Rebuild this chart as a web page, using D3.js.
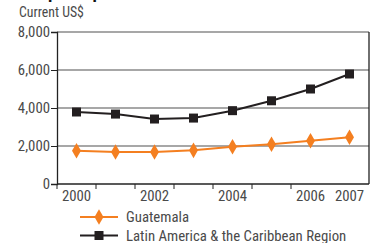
<!DOCTYPE html>
<html>
<head>
<meta charset="utf-8">
<script src="https://cdn.jsdelivr.net/npm/d3@7"></script>
<style>
body { margin: 0; background: #fff; }
text { font-family: "Liberation Sans Narrow", "Roboto Condensed", "Liberation Sans", sans-serif; fill: #4a4a4a; }
</style>
</head>
<body>
<script>
// data
var years = [2000, 2001, 2002, 2003, 2004, 2005, 2006, 2007];
var yearLabels = ["2000", "", "2002", "", "2004", "", "2006", "2007"];
var guatemala = [1750, 1680, 1680, 1770, 1960, 2090, 2280, 2460];
var latam = [3790, 3680, 3420, 3470, 3860, 4380, 5000, 5790];
var yTicks = [0, 2000, 4000, 6000, 8000];
var seriesNames = ["Guatemala", "Latin America & the Caribbean Region"];

var W = 371, H = 243;
var margin = {top: 32, right: 2, bottom: 59, left: 57};
var fs = "14.8px";

var svg = d3.select("body").append("svg").attr("width", W).attr("height", H);

// title sits above the frame, only the descenders peek in
svg.append("text").attr("x", 13).attr("y", -2.5)
    .style("font-weight", "bold").style("font-size", "18px").style("fill", "#111")
    .text("GDP per capita");

var x = d3.scaleBand().domain(years).range([margin.left, W - margin.right]);
var y = d3.scaleLinear().domain([0, 8000]).range([H - margin.bottom, margin.top]);

svg.append("text").attr("x", 19).attr("y", 17).style("font-size", "13.8px").text("Current US$");

// gridlines
svg.selectAll(".grid").data(yTicks.slice(1)).enter().append("line")
    .attr("x1", margin.left).attr("x2", W - margin.right)
    .attr("y1", function(d){ return y(d); }).attr("y2", function(d){ return y(d); })
    .attr("stroke", "#8a8a8a").attr("stroke-width", 1.3);

// right border
svg.append("line").attr("x1", W - margin.right).attr("x2", W - margin.right)
    .attr("y1", y(8000)).attr("y2", y(0)).attr("stroke", "#222").attr("stroke-width", 1.3);

// y axis
var yAxis = svg.append("g").attr("transform", "translate(" + margin.left + ",0)")
    .call(d3.axisLeft(y).tickValues(yTicks).tickSize(6).tickPadding(1).tickFormat(d3.format(",")));
yAxis.select(".domain").attr("stroke", "#222").attr("stroke-width", 1.3);
yAxis.selectAll(".tick line").attr("stroke", "#222");
yAxis.selectAll("text").style("font-size", fs).attr("fill", "#4a4a4a");

// x axis, ticks at band edges
var edges = years.slice(0, 7).map(function(d){ return x(d); });
svg.append("line").attr("x1", margin.left).attr("x2", W - margin.right)
    .attr("y1", y(0)).attr("y2", y(0)).attr("stroke", "#222").attr("stroke-width", 1.3);
svg.selectAll(".xt").data(edges).enter().append("line")
    .attr("x1", function(d){ return d; }).attr("x2", function(d){ return d; })
    .attr("y1", y(0)).attr("y2", y(0) + 5).attr("stroke", "#222");
svg.selectAll(".xl").data(years).enter().append("text")
    .attr("x", function(d){ return x(d) + x.bandwidth() / 2; })
    .attr("y", y(0) + 17).attr("text-anchor", "middle").style("font-size", fs)
    .text(function(d, i){ return yearLabels[i]; });

var cx = function(d, i){ return x(years[i]) + x.bandwidth() / 2; };
var line = d3.line().x(cx).y(function(d){ return y(d); });

svg.append("path").datum(latam).attr("d", line).attr("fill", "none")
    .attr("stroke", "#231f20").attr("stroke-width", 2);
svg.selectAll(".sq").data(latam).enter().append("rect")
    .attr("x", function(d, i){ return cx(d, i) - 4.5; }).attr("y", function(d){ return y(d) - 4.5; })
    .attr("width", 9).attr("height", 9).attr("fill", "#231f20");

svg.append("path").datum(guatemala).attr("d", line).attr("fill", "none")
    .attr("stroke", "#f47f20").attr("stroke-width", 2);
var diamond = d3.symbol().type(d3.symbolDiamond).size(70);
svg.selectAll(".dm").data(guatemala).enter().append("path")
    .attr("d", diamond)
    .attr("transform", function(d, i){ return "translate(" + cx(d, i) + "," + y(d) + ")"; })
    .attr("fill", "#f47f20");

// legend
var leg = svg.append("g");
[0, 1].forEach(function(i){
    var ly = 217 + i * 18.5;
    var col = i == 0 ? "#f47f20" : "#231f20";
    leg.append("line").attr("x1", 80).attr("x2", 118).attr("y1", ly).attr("y2", ly)
        .attr("stroke", col).attr("stroke-width", 2);
    if (i == 0)
        leg.append("path").attr("d", diamond).attr("transform", "translate(99," + ly + ")").attr("fill", col);
    else
        leg.append("rect").attr("x", 94.5).attr("y", ly - 4.5).attr("width", 9).attr("height", 9).attr("fill", col);
    leg.append("text").attr("x", 126).attr("y", ly + 5).style("font-size", fs).text(seriesNames[i]);
});
</script>
</body>
</html>
